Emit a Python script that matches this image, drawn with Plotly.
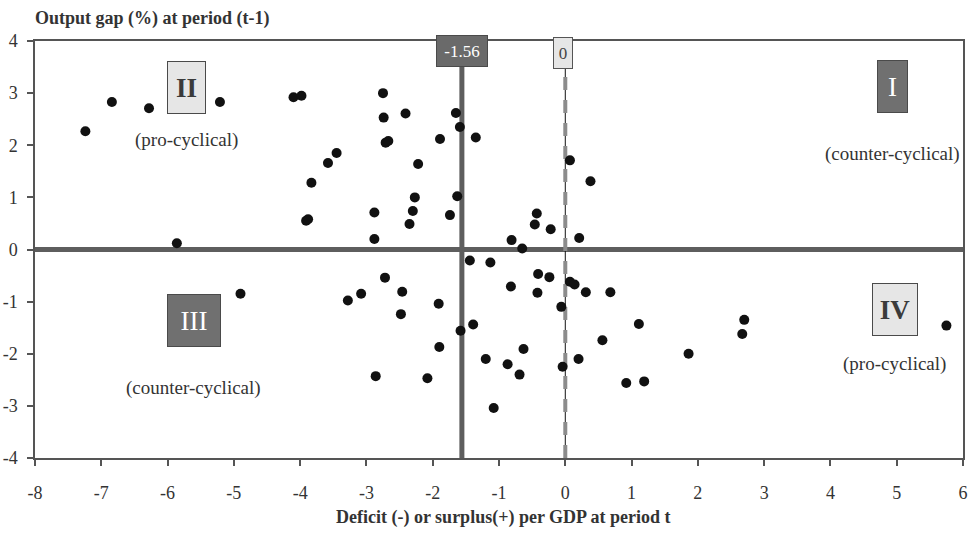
import plotly.graph_objects as go

# ---- data ----
deficit = [
    -7.24, -6.84, -6.28, -5.21, -5.86, -4.10, -3.98, -2.75, -2.74, -2.71, -2.67, -2.41,
    -1.89, -1.65, -1.59, -3.58, -3.45, -3.83, -3.91, -3.88, -2.88, -2.88, -2.22, -2.27,
    -2.30, -2.35, -1.74, -1.63,
    -1.35, 0.07, 0.38, -0.43, -0.46, -0.22, -0.81, -0.65, 0.21,
    -1.44, -1.13, -2.72, -2.46, -3.08, -3.28, -2.48, -1.91, -0.82, -0.41, -0.24, -0.42,
    0.07, 0.14, 0.31, 0.68, -0.06, -1.58, -1.39, -1.90, -0.63, -1.20, -0.87, -0.69,
    -0.04, 0.20, 0.56, -2.86, -2.08, -1.08, -4.90, 1.11, 1.86, 0.92, 1.19, 2.70, 2.67, 5.75,
]
output_gap = [
    2.27, 2.83, 2.71, 2.83, 0.12, 2.92, 2.95, 3.00, 2.53, 2.05, 2.08, 2.61,
    2.12, 2.62, 2.35, 1.66, 1.85, 1.28, 0.55, 0.58, 0.71, 0.20, 1.64, 1.00,
    0.74, 0.49, 0.66, 1.02,
    2.15, 1.71, 1.31, 0.69, 0.48, 0.39, 0.18, 0.02, 0.22,
    -0.21, -0.25, -0.54, -0.81, -0.85, -0.98, -1.24, -1.04, -0.71, -0.47, -0.53, -0.83,
    -0.62, -0.67, -0.82, -0.82, -1.10, -1.56, -1.44, -1.87, -1.91, -2.10, -2.20, -2.40,
    -2.25, -2.10, -1.74, -2.43, -2.47, -3.04, -0.85, -1.43, -2.00, -2.56, -2.53, -1.35, -1.62, -1.46,
]
mean_deficit = -1.56
zero_ref = 0
x_range = [-8, 6]
y_range = [-4, 4]
x_ticks = [-8, -7, -6, -5, -4, -3, -2, -1, 0, 1, 2, 3, 4, 5, 6]
x_tick_labels = ["-8", "-7", "-6", "-5", "-4", "-3", "-2", "-1", "0", "1", "2", "3", "4", "5", "6"]
y_ticks = [-4, -3, -2, -1, 0, 1, 2, 3, 4]
y_tick_labels = ["-4", "-3", "-2", "-1", "0", "1", "2", "3", "4"]

quad_labels = ["II", "I", "III", "IV"]
quad_notes = ["(pro-cyclical)", "(counter-cyclical)", "(counter-cyclical)", "(pro-cyclical)"]

FONT = "Liberation Serif"
DARK = "#5e5e5e"

fig = go.Figure()
fig.add_trace(go.Scatter(
    x=deficit, y=output_gap, mode="markers",
    marker=dict(size=10, color="#111111"),
    showlegend=False, hoverinfo="x+y",
))

# reference lines
fig.add_shape(type="line", xref="paper", yref="y", x0=0, x1=1, y0=0, y1=0,
              line=dict(color=DARK, width=5), layer="below")
fig.add_shape(type="line", xref="x", yref="y", x0=mean_deficit, x1=mean_deficit,
              y0=y_range[0], y1=3.7, line=dict(color=DARK, width=5), layer="below")
fig.add_shape(type="line", xref="x", yref="y", x0=zero_ref, x1=zero_ref,
              y0=y_range[0], y1=3.7, line=dict(color="#111111", width=1), layer="below")
fig.add_shape(type="line", xref="x", yref="y", x0=zero_ref, x1=zero_ref,
              y0=y_range[0], y1=3.7, line=dict(color="#8c8c8c", width=4, dash="13px,10px"),
              layer="below")

# quadrant boxes
box_specs = [
    (quad_labels[0], -5.72, 3.10, 37, False),
    (quad_labels[1], 4.93, 3.13, 29, True),
    (quad_labels[2], -5.60, -1.36, 52, True),
    (quad_labels[3], 4.97, -1.15, 44, False),
]
for lab, bx, by, w, dark in box_specs:
    fig.add_annotation(
        x=bx, y=by, xref="x", yref="y", text=("<b>%s</b>" % lab) if not dark else lab,
        showarrow=False, width=w, height=51, borderpad=0, borderwidth=1,
        bordercolor="#4a4a4a", bgcolor="#707070" if dark else "#e6e6e6",
        font=dict(family=FONT, size=27, color="#ffffff" if dark else "#3a3a3a"),
        align="center", valign="middle",
    )

note_pos = [(-5.72, 2.10), (4.93, 1.84), (-5.61, -2.65), (4.97, -2.19)]
for note, (nx, ny) in zip(quad_notes, note_pos):
    fig.add_annotation(x=nx, y=ny, xref="x", yref="y", text=note, showarrow=False,
                       font=dict(family=FONT, size=19, color="#333333"))

# value tags on the vertical lines
fig.add_annotation(x=mean_deficit, y=3.81, xref="x", yref="y", text=str(mean_deficit),
                   showarrow=False, width=50, height=30, borderpad=0, borderwidth=1,
                   bordercolor="#4a4a4a", bgcolor="#6a6a6a",
                   font=dict(family=FONT, size=17, color="#ffffff"))
fig.add_annotation(x=zero_ref - 0.03, y=3.77, xref="x", yref="y", text=str(zero_ref),
                   showarrow=False, width=18, height=30, borderpad=0, borderwidth=1,
                   bordercolor="#555555", bgcolor="#e6e6e6",
                   font=dict(family=FONT, size=17, color="#444444"))

# axis titles
fig.add_annotation(xref="paper", yref="paper", x=0, y=1, xanchor="left", yanchor="middle",
                   xshift=-2, yshift=23, text="<b>Output gap (%) at period (t-1)</b>",
                   showarrow=False, font=dict(family=FONT, size=18, color="#333333"))
fig.add_annotation(xref="paper", yref="paper", x=0.505, y=0, xanchor="center", yanchor="middle",
                   yshift=-59, text="<b>Deficit (-) or surplus(+) per GDP at period t</b>",
                   showarrow=False, font=dict(family=FONT, size=18, color="#333333"))

axis_common = dict(
    showline=True, linecolor="#555555", linewidth=1.5, mirror=True,
    ticks="outside", ticklen=6, tickcolor="#555555", tickwidth=1.5,
    showgrid=False, zeroline=False, automargin=False,
    tickfont=dict(family=FONT, size=18, color="#333333"),
)
fig.update_xaxes(range=x_range, tickmode="array", tickvals=x_ticks, ticktext=x_tick_labels,
                 ticklabelstandoff=12, **axis_common)
fig.update_yaxes(range=y_range, tickmode="array", tickvals=y_ticks, ticktext=y_tick_labels,
                 ticklabelstandoff=6, **axis_common)

fig.update_layout(
    width=975, height=534, autosize=False,
    margin=dict(l=35, r=12, t=41, b=76),
    paper_bgcolor="white", plot_bgcolor="white",
    font=dict(family=FONT, color="#333333"),
)

fig.write_html(
    "out.html",
    config={"displayModeBar": False},
    post_script="document.body.style.margin='0';document.body.style.overflow='hidden';",
)
